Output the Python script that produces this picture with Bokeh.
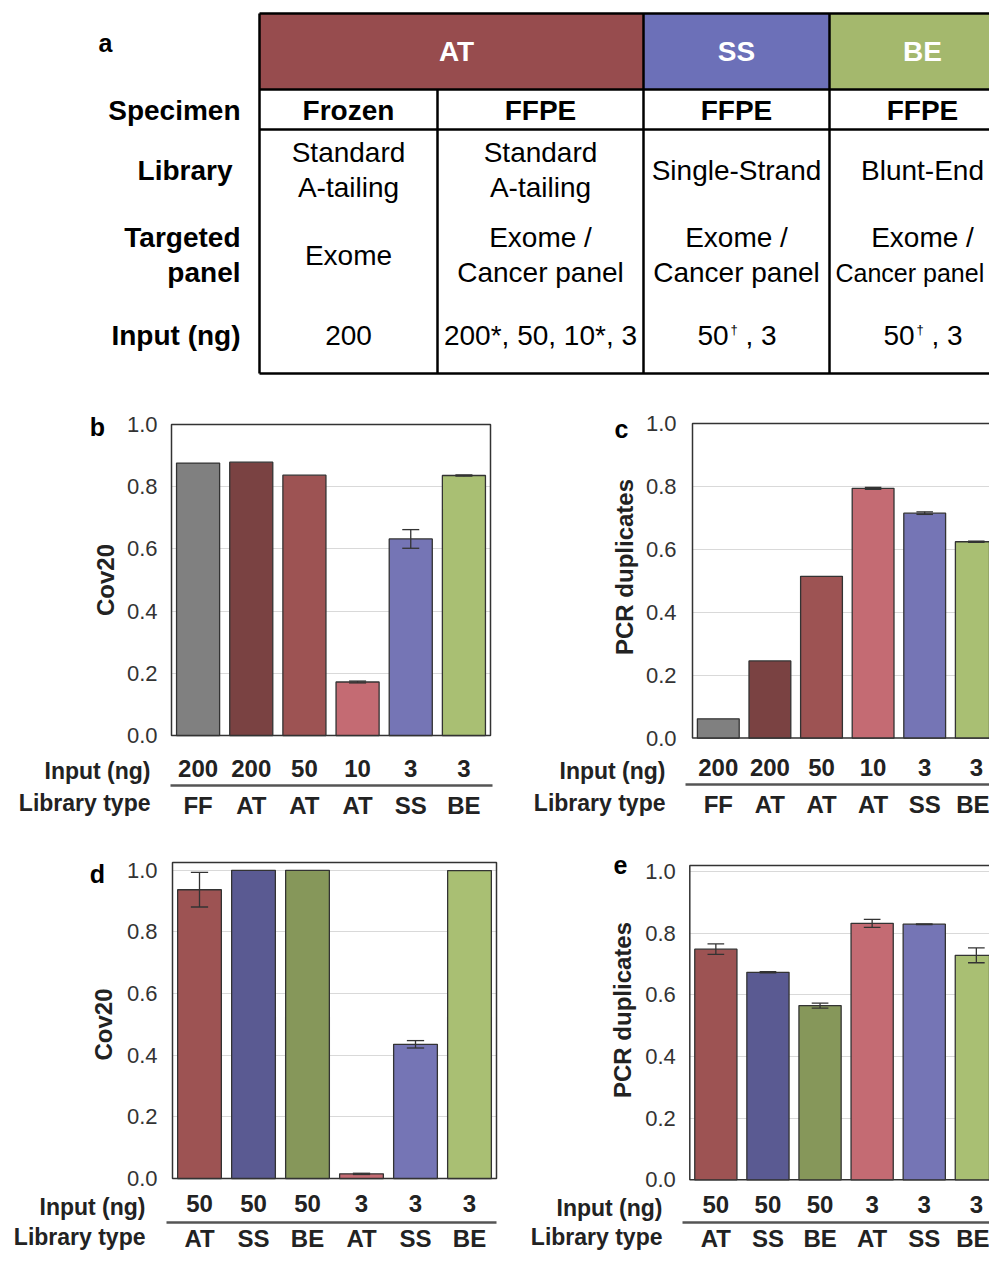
import numpy as np
from bokeh.plotting import figure
from bokeh.models import Range1d, FixedTicker, LinearAxis, PrintfTickFormatter, ColumnDataSource, Grid
from bokeh.layouts import column, row
from bokeh.core.properties import value
from bokeh.embed import file_html
from bokeh.resources import INLINE

FONT = "Liberation Sans"

# ---------------- data ----------------
# panel a (table)
groups = ["AT", "SS", "BE"]
group_colors = ["#974C4E", "#6C70B8", "#A4B86D"]
row_labels = ["Specimen", "Library", "Targeted\npanel", "Input (ng)"]
specimen = ["Frozen", "FFPE", "FFPE", "FFPE"]
library = ["Standard\nA-tailing", "Standard\nA-tailing", "Single-Strand", "Blunt-End"]
panel = ["Exome", "Exome /\nCancer panel", "Exome /\nCancer panel", "Exome /\nCancer panel"]
input_ng = ["200", "200*, 50, 10*, 3", "50†, 3", "50†, 3"]

# panels b, c
bc_inputs = ["200", "200", "50", "10", "3", "3"]
bc_libs = ["FF", "AT", "AT", "AT", "SS", "BE"]
bc_colors = ["#808080", "#7A4242", "#9D5353", "#C46B73", "#7575B5", "#A9BF73"]
b_cov20 = [0.876, 0.879, 0.837, 0.172, 0.632, 0.836]
b_err = [0.0, 0.0, 0.0, 0.003, 0.030, 0.002]
c_dup = [0.061, 0.245, 0.514, 0.794, 0.715, 0.624]
c_err = [0.0, 0.0, 0.0, 0.003, 0.004, 0.002]

# panels d, e
de_inputs = ["50", "50", "50", "3", "3", "3"]
de_libs = ["AT", "SS", "BE", "AT", "SS", "BE"]
de_colors = ["#9D5353", "#5A5A92", "#86975A", "#C46B73", "#7575B5", "#A9BF73"]
d_cov20 = [0.936, 0.999, 0.999, 0.015, 0.435, 0.998]
d_err = [0.056, 0.0, 0.0, 0.002, 0.012, 0.0]
e_dup = [0.748, 0.673, 0.565, 0.832, 0.829, 0.728]
e_err = [0.017, 0.002, 0.008, 0.013, 0.001, 0.024]

yticks = [0.0, 0.2, 0.4, 0.6, 0.8, 1.0]

# ---------------- table (panel a) ----------------
T_H = 395
t = figure(width=989, height=T_H, x_range=Range1d(0, 989), y_range=Range1d(T_H, 0),
           output_backend="svg", toolbar_location=None, min_border=0,
           x_axis_location=None, y_axis_location=None)
t.grid.visible = False
t.outline_line_color = None

group_edges = [259, 643, 829, 1010]
y_head_top, y_head_bot, y_spec_bot, y_tab_bot = 13, 89, 129, 373

t.quad(left=group_edges[:-1], right=group_edges[1:], top=[y_head_top] * 3, bottom=[y_head_bot] * 3,
       fill_color=group_colors, line_color=None)
xs0, ys0, xs1, ys1 = [], [], [], []
for yy in [y_head_top, y_head_bot, y_spec_bot, y_tab_bot]:
    xs0.append(259); xs1.append(1010); ys0.append(yy); ys1.append(yy)
for xx in [259, 643, 829]:
    xs0.append(xx); xs1.append(xx); ys0.append(y_head_top); ys1.append(y_tab_bot)
xs0.append(437); xs1.append(437); ys0.append(y_head_bot); ys1.append(y_tab_bot)
t.segment(x0=xs0, y0=ys0, x1=xs1, y1=ys1, line_color="black", line_width=2.5)

t.text(x=[456, 736, 922], y=[51] * 3, text=groups, text_color="white", text_font=value(FONT),
       text_font_style="bold", text_font_size=value("28px"), text_align="center", text_baseline="middle")

col_centers = [348, 540, 736, 922]
LH = 35


def stacked(xpos, items, centers):
    xs, ys, txt = [], [], []
    for cx, s, cy in zip(xpos, items, centers):
        parts = s.split("\n")
        n = len(parts)
        for k, ptxt in enumerate(parts):
            xs.append(cx); ys.append(cy + (k - (n - 1) / 2) * LH); txt.append(ptxt)
    return xs, ys, txt


row_centers = [110, 169.5, 254.5, 335]
rx, ry, rt = stacked([240, 232, 240, 240], row_labels, row_centers)
t.text(x=rx, y=ry, text=rt, text_color="black", text_font=value(FONT), text_font_style="bold",
       text_font_size=value("28px"), text_align="right", text_baseline="middle")

sx, sy, st = stacked(col_centers, specimen, [row_centers[0]] * 4)
t.text(x=sx, y=sy, text=st, text_color="black", text_font=value(FONT), text_font_style="bold",
       text_font_size=value("28px"), text_align="center", text_baseline="middle")
lx, ly, lt = stacked(col_centers, library, [row_centers[1]] * 4)
px_, py_, pt_ = stacked(col_centers, panel, [row_centers[2]] * 4)
cx_all, cy_all, ct_all = lx + px_, ly + py_, lt + pt_
# the last column touches the right edge: keep its long line inside the page
big = [(x, y, s) for x, y, s in zip(cx_all, cy_all, ct_all) if not (x == col_centers[-1] and len(s) > 10)]
edge = [(x, y, s) for x, y, s in zip(cx_all, cy_all, ct_all) if (x == col_centers[-1] and len(s) > 10)]
t.text(x=[b[0] for b in big], y=[b[1] for b in big], text=[b[2] for b in big], text_color="black",
       text_font=value(FONT), text_font_size=value("28px"), text_align="center", text_baseline="middle")
t.text(x=[835 for b in edge], y=[b[1] for b in edge], text=[b[2] for b in edge], text_color="black",
       text_font=value(FONT), text_font_size=value("25px"), text_align="left", text_baseline="middle")

plain_x, plain_t, plain_al = [], [], []
sup_x, sup_t = [], []
for cx, s in zip(col_centers, input_ng):
    if "†" in s:
        pre, post = s.split("†")
        start = cx - 39
        plain_x += [start, start + 48]; plain_t += [pre, post.strip()]; plain_al += ["left", "left"]
        sup_x.append(start + 33); sup_t.append("†")
    else:
        plain_x.append(cx); plain_t.append(s); plain_al.append("center")
src_in = ColumnDataSource(dict(x=plain_x, y=[row_centers[3]] * len(plain_x), text=plain_t, align=plain_al))
t.text(x="x", y="y", text="text", text_align="align", source=src_in, text_color="black",
       text_font=value(FONT), text_font_size=value("28px"), text_baseline="middle")
t.text(x=sup_x, y=[329] * len(sup_x), text=sup_t, text_color="black", text_font=value(FONT),
       text_font_size=value("13px"), text_align="left", text_baseline="middle")
t.text(x=[105], y=[42], text=["a"], text_color="black", text_font=value(FONT), text_font_style="bold",
       text_font_size=value("25px"), text_align="center", text_baseline="middle")

HAS_CB = "cross_bounds" in Grid.properties()
LAB_OFF = 11.5  # distance from label top (axis standoff end) to visual centre


# ---------------- bar panels ----------------
def bar_panel(vals, errs, cols, inputs, libs, ylabel, letter,
              fig_x, fig_y, w, h, box_l, cw, zero_y, scale, y_end_box, ylabel_top,
              tick_standoff, ylabel_standoff, input_cy, div_y, lib_cy, div_l, div_r,
              letter_xy, title_right):
    n = len(vals)

    def dx(px):
        return (px - box_l) / cw

    def dy(py):
        return (zero_y - py) / scale

    p = figure(width=w, height=h, x_range=Range1d(dx(fig_x), dx(fig_x + w)),
               y_range=Range1d(dy(fig_y + h), dy(fig_y)),
               output_backend="svg", toolbar_location=None, x_axis_location=None, min_border=0)
    p.outline_line_color = None
    p.xgrid.visible = False

    # y axis drawn at the left edge of the plot box
    yax = p.yaxis[0]
    yax.fixed_location = 0
    yax.bounds = (0, ylabel_top)
    yax.ticker = FixedTicker(ticks=yticks)
    yax.formatter = PrintfTickFormatter(format="%.1f")
    yax.major_tick_out = 0
    yax.major_tick_in = 0
    yax.major_tick_line_color = None
    yax.minor_tick_line_color = None
    yax.axis_line_color = None
    yax.major_label_standoff = int(tick_standoff)
    yax.major_label_text_font = FONT
    yax.major_label_text_font_size = "22px"
    yax.major_label_text_color = "#333333"
    yax.axis_label = ylabel
    yax.axis_label_text_font = FONT
    yax.axis_label_text_font_style = "bold"
    yax.axis_label_text_font_size = "24px"
    yax.axis_label_text_color = "#222222"
    yax.axis_label_standoff = int(ylabel_standoff)

    p.ygrid.ticker = FixedTicker(ticks=yticks[1:])
    p.ygrid.grid_line_color = "#d9d9d9"
    p.ygrid.grid_line_width = 1
    if HAS_CB:
        p.ygrid.cross_bounds = (0, n)
    else:
        p.ygrid.visible = False
        gy = [v for v in yticks[1:] if v <= y_end_box]
        p.segment(x0=[0] * len(gy), x1=[n] * len(gy), y0=gy, y1=gy, line_color="#d9d9d9", line_width=1)

    # plot box
    p.quad(left=[0], right=[n], bottom=[0], top=[y_end_box], fill_color=None,
           line_color="#333333", line_width=1.5)

    xs = list(np.arange(n) + 0.5)
    src = ColumnDataSource(dict(x=xs, top=vals, color=cols))
    p.vbar(x="x", top="top", width=0.81, fill_color="color", line_color="#333333", line_width=1.3, source=src)

    ex0, ey0, ex1, ey1 = [], [], [], []
    for x, v, e in zip(xs, vals, errs):
        if e > 0:
            ex0 += [x, x - 0.16, x - 0.16]; ex1 += [x, x + 0.16, x + 0.16]
            ey0 += [v - e, v - e, v + e]; ey1 += [v + e, v - e, v + e]
    if ex0:
        p.segment(x0=ex0, y0=ey0, x1=ex1, y1=ey1, line_color="#333333", line_width=1.3)

    def cat_axis(labels, loc, standoff, line_color, bounds):
        ax = LinearAxis(ticker=FixedTicker(ticks=xs), fixed_location=loc, bounds=bounds,
                        major_label_overrides={float(k): s for k, s in zip(xs, labels)})
        ax.major_tick_out = 0
        ax.major_tick_in = 0
        ax.major_tick_line_color = None
        ax.minor_tick_line_color = None
        ax.axis_line_color = line_color
        ax.axis_line_width = 2.5
        ax.major_label_standoff = max(0, int(round(standoff)))
        ax.major_label_text_font = FONT
        ax.major_label_text_font_style = "bold"
        ax.major_label_text_font_size = "24px"
        ax.major_label_text_color = "#222222"
        return ax

    s1 = input_cy - LAB_OFF - zero_y
    s2 = lib_cy - LAB_OFF - div_y
    ax1 = cat_axis(inputs, 0, s1, None, (0, n))
    p.add_layout(ax1, "below")
    ax2 = cat_axis(libs, dy(div_y), s2, "#555555", (dx(div_l), dx(div_r)))
    p.add_layout(ax2, "below")

    p.text(x=[dx(title_right)] * 2, y=[dy(input_cy), dy(lib_cy)], text=["Input (ng)", "Library type"],
           text_font=value(FONT), text_font_style="bold", text_font_size=value("23px"),
           text_color="#222222", text_align="right", text_baseline="middle")
    p.text(x=[dx(letter_xy[0])], y=[dy(letter_xy[1])], text=[letter], text_font=value(FONT),
           text_font_style="bold", text_font_size=value("25px"), text_color="black",
           text_align="center", text_baseline="middle")
    return p


pb = bar_panel(b_cov20, b_err, bc_colors, bc_inputs, bc_libs, "Cov20", "b",
               fig_x=0, fig_y=395, w=500, h=445, box_l=171, cw=319 / 6, zero_y=735, scale=311, y_end_box=1.0,
               ylabel_top=1.0,
               tick_standoff=14, ylabel_standoff=5, input_cy=770, div_y=785, lib_cy=802, div_l=170, div_r=492,
               letter_xy=(97, 426), title_right=150)
pc = bar_panel(c_dup, c_err, bc_colors, bc_inputs, bc_libs, "PCR duplicates", "c",
               fig_x=500, fig_y=395, w=489, h=445, box_l=692, cw=51.6, zero_y=737.5, scale=314.5, y_end_box=1.0,
               ylabel_top=1.096,
               tick_standoff=16, ylabel_standoff=5, input_cy=770, div_y=784, lib_cy=802, div_l=685, div_r=1100,
               letter_xy=(621, 428), title_right=665)
pd_ = bar_panel(d_cov20, d_err, de_colors, de_inputs, de_libs, "Cov20", "d",
                fig_x=0, fig_y=840, w=500, h=412, box_l=172, cw=54, zero_y=1178, scale=308.5, y_end_box=316 / 308.5,
                ylabel_top=1.0,
                tick_standoff=15, ylabel_standoff=7, input_cy=1206, div_y=1222, lib_cy=1236, div_l=166, div_r=496,
                letter_xy=(97, 873), title_right=145)
pe = bar_panel(e_dup, e_err, de_colors, de_inputs, de_libs, "PCR duplicates", "e",
               fig_x=500, fig_y=840, w=489, h=412, box_l=689.3, cw=52.1, zero_y=1179.3, scale=308.3,
               y_end_box=314.3 / 308.3, ylabel_top=1.1,
               tick_standoff=14, ylabel_standoff=6, input_cy=1207, div_y=1222, lib_cy=1236, div_l=682, div_r=1100,
               letter_xy=(620, 864), title_right=662)

layout = column(t, row(pb, pc), row(pd_, pe))
open("out.html", "w").write(file_html(layout, INLINE))
